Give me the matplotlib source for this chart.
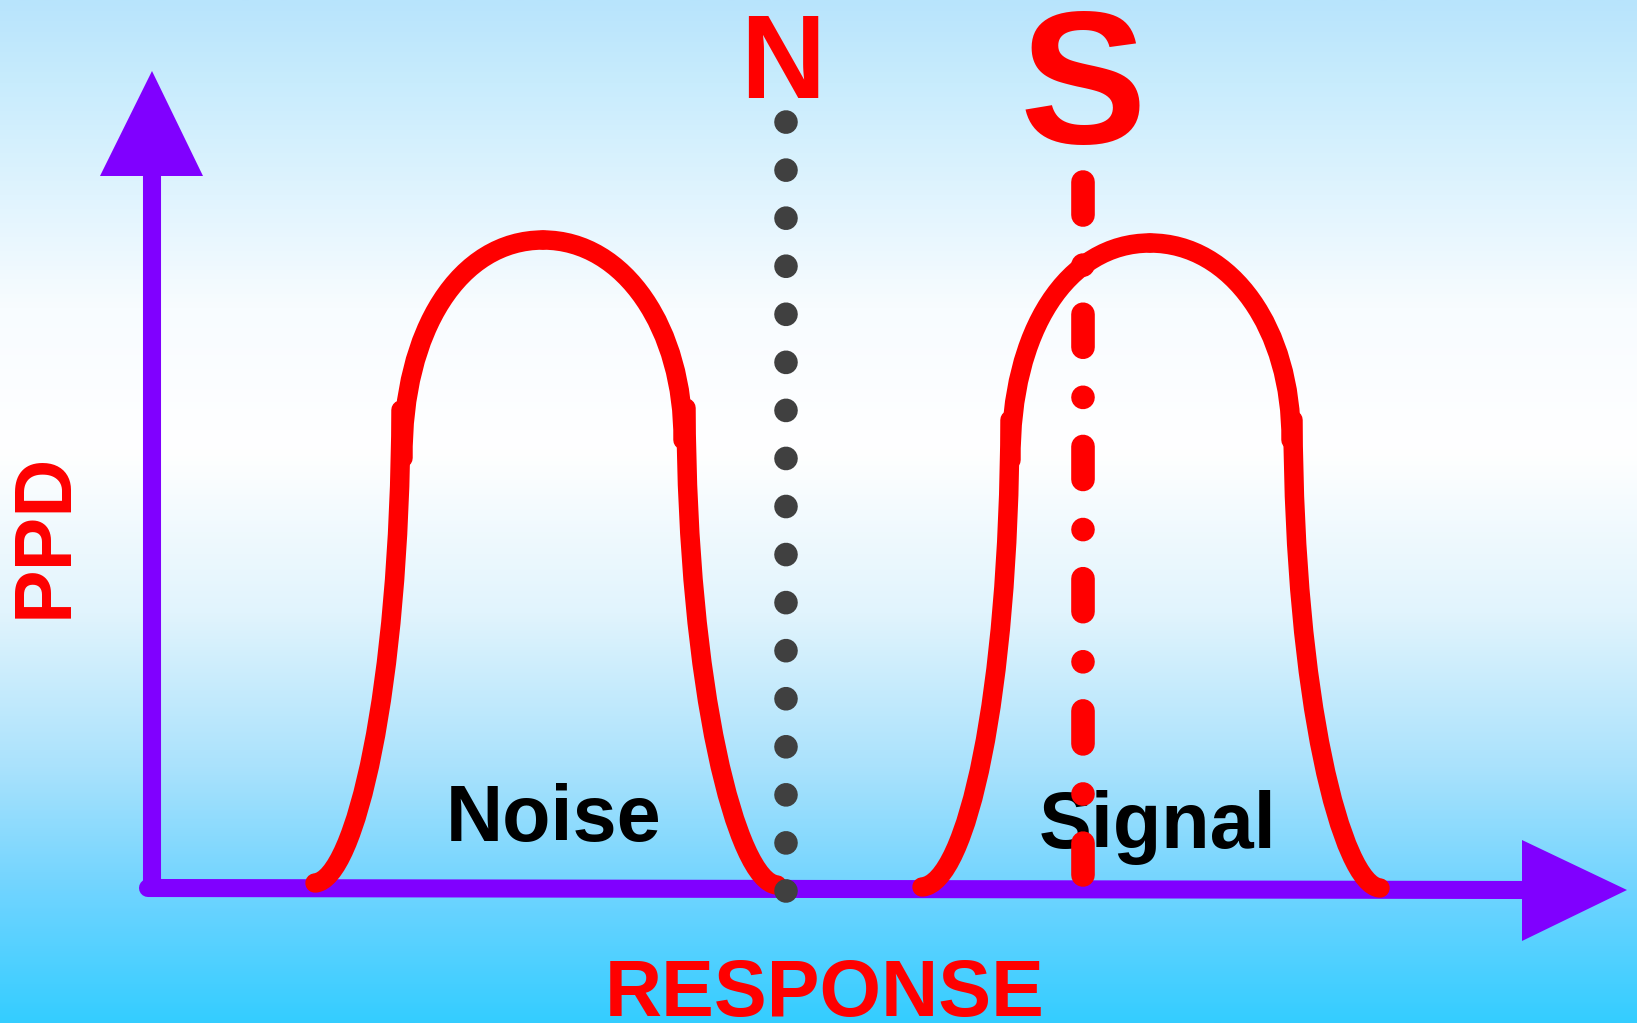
# Noise / Signal response sketch: two bell-ish curves over PPD vs RESPONSE axes
import matplotlib.pyplot as plt
import numpy as np
from matplotlib.patches import Polygon, PathPatch
from matplotlib.path import Path

plt.rcParams['font.family'] = ['Liberation Sans', 'DejaVu Sans']
plt.rcParams['lines.scale_dashes'] = False

W, H = 1637, 1023

# curve pieces as cubic bezier control points (picture pixels, y downward)
noise_left = [(315, 883), (355, 880), (400, 690), (401, 410)]
noise_top_l = [(403, 458), (402, 330), (460, 240), (543, 240)]
noise_top_r = [(543, 240), (625, 240), (684, 330), (683, 440)]
noise_right = [(686, 408), (687, 690), (737, 882), (777, 885)]

signal_left = [(922, 887), (967, 884), (1009, 695), (1010, 420)]
signal_top_l = [(1011, 460), (1010, 330), (1068, 243), (1150, 243)]
signal_top_r = [(1150, 243), (1232, 243), (1292, 330), (1291, 440)]
signal_right = [(1293, 420), (1294, 700), (1342, 885), (1380, 888)]

# criterion lines
n_x, n_y = [786, 786], [122, 905]
s_x, s_y = [1083, 1083], [182, 875]

# axes (arrows)
xaxis_x, xaxis_y = [148, 1525], [888, 890]
yaxis_x, yaxis_y = [152, 152], [888, 170]
xhead = [[1522, 840], [1627, 890], [1522, 941]]
yhead = [[100, 176], [152, 71], [203, 176]]

RED = '#ff0000'
PURPLE = '#8000ff'

fig = plt.figure(figsize=(W / 100, H / 100), dpi=100)
ax = fig.add_axes([0, 0, 1, 1])
ax.set_xlim(0, W)
ax.set_ylim(H, 0)
ax.axis('off')

# background gradient: light blue -> white -> cyan
stops = [0.0, 0.08, 0.3, 0.44, 0.6, 0.75, 0.87, 1.0]
cols = np.array([[184, 228, 252], [200, 236, 253], [248, 252, 255], [255, 255, 255],
                 [225, 244, 253], [170, 226, 252], [112, 212, 255], [52, 205, 255]]) / 255
t = np.linspace(0, 1, 400)
grad = np.stack([np.interp(t, stops, cols[:, k]) for k in range(3)], axis=1)
ax.imshow(grad[:, None, :], extent=[0, W, H, 0], aspect='auto', zorder=0)

# axes
ax.plot(xaxis_x, xaxis_y, color=PURPLE, lw=13, solid_capstyle='round', zorder=2)
ax.plot(yaxis_x, yaxis_y, color=PURPLE, lw=13, solid_capstyle='round', zorder=2)
ax.add_patch(Polygon(xhead, closed=True, color=PURPLE, lw=0, zorder=2))
ax.add_patch(Polygon(yhead, closed=True, color=PURPLE, lw=0, zorder=2))

# curves
codes = [Path.MOVETO, Path.CURVE4, Path.CURVE4, Path.CURVE4]
for pts in [noise_left, noise_top_l, noise_top_r, noise_right,
            signal_left, signal_top_l, signal_top_r, signal_right]:
    ax.add_patch(PathPatch(Path(pts, codes), fill=False, edgecolor=RED, lw=14,
                           capstyle='round', joinstyle='round', zorder=3))

# labels
ax.text(783, 98, 'N', color=RED, fontsize=85, fontweight='bold', ha='center', va='baseline', zorder=4)
ax.text(1083, 143, 'S', color=RED, fontsize=137, fontweight='bold', ha='center', va='baseline', zorder=4)
ax.text(554, 841, 'Noise', color='black', fontsize=57, fontweight='bold', ha='center', va='baseline', zorder=4)
ax.text(1158, 848, 'Signal', color='black', fontsize=57, fontweight='bold', ha='center', va='baseline', zorder=4)
ax.text(825, 1016, 'RESPONSE', color=RED, fontsize=57, fontweight='bold', ha='center', va='baseline', zorder=4)
ax.text(67, 535, 'PPD', color=RED, fontsize=58, fontweight='bold', ha='center', va='baseline',
        rotation=90, rotation_mode='anchor', zorder=4)

# criterion lines on top
ax.plot(n_x, n_y, color='#404040', lw=17, linestyle=(0, (0.1, 34.5)), dash_capstyle='round', zorder=5)
ax.plot(s_x, s_y, color=RED, lw=17, linestyle=(0, (23.8, 36.0, 0.1, 35.3)), dash_capstyle='round', zorder=5)

fig.savefig('out.png', dpi=100)
